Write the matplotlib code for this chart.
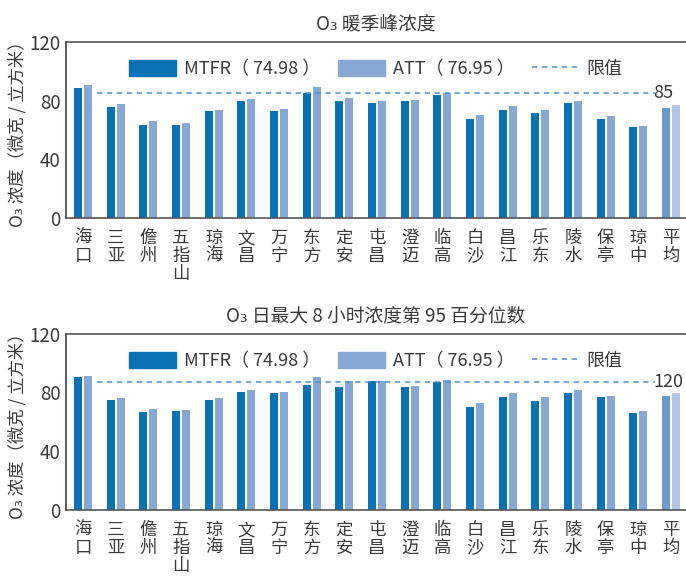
import matplotlib.pyplot as plt
import numpy as np

plt.rcParams["font.family"] = ["Noto Sans CJK SC", "DejaVu Sans"]
plt.rcParams["font.weight"] = "light"

stations = ["海口", "三亚", "儋州", "五指山", "琼海", "文昌", "万宁", "东方", "定安",
            "屯昌", "澄迈", "临高", "白沙", "昌江", "乐东", "陵水", "保亭", "琼中", "平均"]

# 暖季峰浓度
peak_mtfr = [88.6, 75.7, 63.4, 63.4, 73.0, 79.8, 73.0, 85.2, 79.8,
             78.4, 79.8, 83.9, 67.5, 73.6, 71.6, 78.4, 67.5, 62.0, 74.98]
peak_att = [90.7, 77.7, 66.1, 64.8, 73.6, 81.1, 74.3, 89.3, 81.8,
            79.8, 80.5, 85.2, 70.2, 76.4, 73.6, 79.8, 69.5, 62.7, 76.95]

# 日最大 8 小时浓度第 95 百分位数
p95_mtfr = [90.5, 74.9, 66.7, 67.4, 74.9, 80.3, 79.6, 85.1, 83.7,
            87.8, 83.7, 87.1, 70.1, 76.9, 74.2, 79.6, 76.9, 66.0, 77.6]
p95_att = [91.2, 76.2, 68.7, 68.1, 76.2, 81.7, 80.3, 90.5, 87.8,
           87.8, 84.4, 88.5, 72.8, 79.6, 76.9, 81.7, 77.6, 67.4, 79.6]

panels = [
    ("O₃ 暖季峰浓度", peak_mtfr, peak_att, 85.2, "85"),
    ("O₃ 日最大 8 小时浓度第 95 百分位数", p95_mtfr, p95_att, 87.1, "120"),
]
legend_labels = ["MTFR（ 74.98 ）", "ATT（ 76.95 ）", "限值"]

text_color = "#3a3a3a"
dark_blue = "#0872b4"
light_blue = "#86a8d3"
avg_dark = "#6d9ccb"
avg_light = "#b2c6e3"
limit_color = "#4a8fd0"

fig = plt.figure(figsize=(6.86, 5.77), dpi=100)
axes_boxes = [(0.0962, 0.6222, 0.9038, 0.305), (0.0962, 0.1161, 0.9038, 0.3056)]

x = np.arange(len(stations))
width = 0.245
offset = 0.153

for box, (title, mtfr, att, limit, limit_text) in zip(axes_boxes, panels):
    ax = fig.add_axes(box)
    c1 = [dark_blue] * (len(stations) - 1) + [avg_dark]
    c2 = [light_blue] * (len(stations) - 1) + [avg_light]
    b1 = ax.bar(x - offset, mtfr, width, color=c1, label=legend_labels[0])
    b2 = ax.bar(x + offset, att, width, color=c2, label=legend_labels[1])
    lim = ax.hlines(limit, 0.43, 17.5, colors=limit_color, linewidth=1.1,
                    linestyles=(0, (3.5, 3)), label=legend_labels[2])
    ax.text(17.45, limit, limit_text, ha="left", va="center", fontsize=13,
            color=text_color)

    ax.set_xlim(-0.52, 18.46)
    ax.set_ylim(0, 120)
    ax.set_yticks([0, 40, 80, 120])
    ax.set_xticks(x)
    ax.set_xticklabels(["\n".join(s) for s in stations], va="top",
                       linespacing=1.0)
    ax.tick_params(axis="both", length=0, colors=text_color)
    ax.tick_params(axis="x", pad=8, labelsize=12.5)
    ax.tick_params(axis="y", pad=4, labelsize=13.5)

    ax.spines["right"].set_visible(False)
    ax.spines["left"].set_color("#404040")
    ax.spines["bottom"].set_color("#555555")
    ax.spines["top"].set_color("#555555")
    for s in ("left", "bottom", "top"):
        ax.spines[s].set_linewidth(1.2)

    ax.set_title(title, fontsize=13.5, color=text_color, pad=9)
    ax.set_ylabel("O₃ 浓度（微克 / 立方米）", fontsize=12.5, color=text_color,
                  labelpad=2)

    leg = ax.legend(handles=[b1, b2, lim], ncol=3, loc="upper center",
                    bbox_to_anchor=(0.5, 0.99), frameon=False, fontsize=13,
                    handlelength=2.6, handleheight=1.0, handletextpad=0.45,
                    columnspacing=0.95, labelcolor=text_color)
    leg.legend_handles[0].set_color(dark_blue)
    leg.legend_handles[1].set_color(light_blue)

fig.savefig("out.png", dpi=100)
